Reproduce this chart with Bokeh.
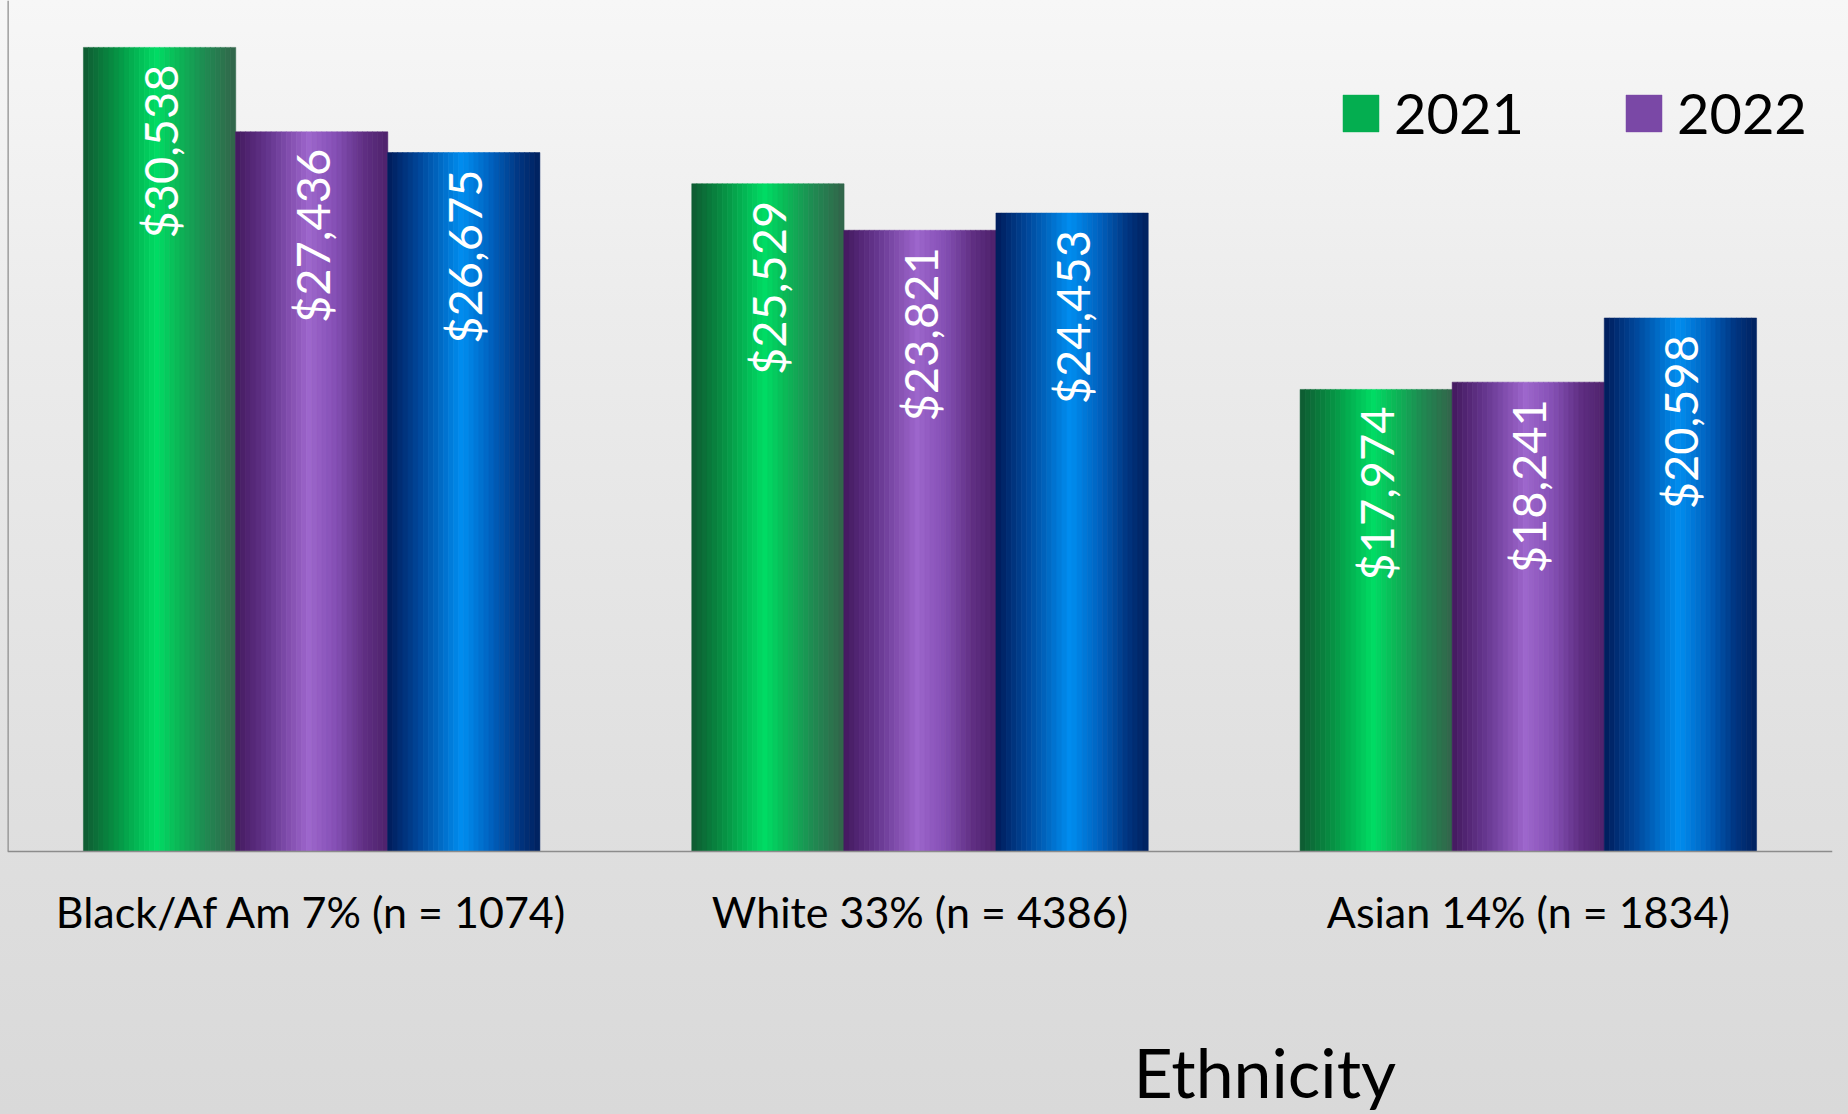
import math
from bokeh.plotting import figure
from bokeh.models import (FactorRange, Range1d, Legend, LegendItem, Label, Span)
from bokeh.transform import dodge
from bokeh.core.properties import value
from bokeh.embed import file_html
from bokeh.resources import INLINE

# ---- data ----
categories = ["Black/Af Am 7% (n = 1074)", "White 33% (n = 4386)", "Asian 14% (n = 1834)"]
series_names = ["2021", "2022", "2023"]
values_2021 = [30538, 25529, 17974]
values_2022 = [27436, 23821, 18241]
values_2023 = [26675, 24453, 20598]
legend_labels = ["2021", "2022"]
x_title = "Ethnicity"
axis_base = 1000      # value at the category axis line
axis_top = 32260      # value at the top of the plot area

series_values = [values_2021, values_2022, values_2023]

# gradient stops (position across bar, colour) per series
gradients = [
    [(0.0, "#0f5a32"), (0.2, "#078d42"), (0.48, "#00dc64"), (0.62, "#0bb857"), (0.8, "#1f8a52"), (1.0, "#33644a")],
    [(0.0, "#43195e"), (0.22, "#66368f"), (0.48, "#9d66cc"), (0.66, "#8550b5"), (0.85, "#5f2e82"), (1.0, "#4e226c")],
    [(0.0, "#001c5a"), (0.22, "#004a9e"), (0.49, "#008ef0"), (0.68, "#0062bf"), (0.86, "#003682"), (1.0, "#00205e")],
]

def hex2rgb(h):
    h = h.lstrip("#")
    return tuple(int(h[i:i + 2], 16) for i in (0, 2, 4))

def interp(stops, t):
    for (p0, c0), (p1, c1) in zip(stops, stops[1:]):
        if p0 <= t <= p1:
            f = (t - p0) / (p1 - p0) if p1 > p0 else 0
            a, b = hex2rgb(c0), hex2rgb(c1)
            return "#%02x%02x%02x" % tuple(int(round(a[k] + (b[k] - a[k]) * f)) for k in range(3))
    return stops[-1][1]

W, H = 1848, 1114
plot_bottom_px = 851      # pixel row of the category axis line
# the plot frame covers the whole canvas; extend the value range below the axis line
units_per_px = (axis_top - axis_base) / plot_bottom_px
y_start = axis_base - (H - plot_bottom_px) * units_per_px

p = figure(x_range=FactorRange(*categories, range_padding=0),
           y_range=Range1d(y_start, axis_top),
           width=W, height=H,
           output_backend="svg", toolbar_location=None,
           min_border_left=7, min_border_right=16, min_border_top=0, min_border_bottom=0)

p.background_fill_alpha = 0
p.border_fill_alpha = 0
p.outline_line_color = None
p.styles = {"background": "linear-gradient(to bottom, #f7f7f7 0%, #ececec 28%, #e0e0e0 70%, #d9d9d9 100%)"}
p.xgrid.visible = False
p.ygrid.visible = False
p.xaxis.visible = False
p.yaxis.visible = False

bar_w = 0.25
N = 30
legend_renderers = []
for i, (name, vals) in enumerate(zip(series_names, series_values)):
    base_off = (i - 1) * bar_w
    src = {"cat": categories, "top": vals}
    pick = None
    for j in range(N):
        t = (j + 0.5) / N
        col = interp(gradients[i], t)
        off = base_off - bar_w / 2 + (j + 0.5) * bar_w / N
        r = p.vbar(x=dodge("cat", off, range=p.x_range), top="top", bottom=axis_base,
                   width=bar_w / N * 1.05, source=src,
                   fill_color=col, line_color=col, line_width=0.5)
        if j == int(N * 0.3):
            pick = r
    legend_renderers.append(pick)
    labels = ["$" + format(v, ",") for v in vals]
    p.text(x=dodge("cat", base_off, range=p.x_range), y="top",
           source={"cat": categories, "top": vals, "lab": labels},
           text="lab", angle=math.pi / 2, text_align="right", text_baseline="middle",
           y_offset=17, text_color="white", text_font=value("Lato"), text_font_size="47px")

# axis lines
p.add_layout(Span(location=axis_base, dimension="width", line_color="#8c8c8c", line_width=1.5))
p.segment(x0=dodge("cat", -0.5, range=p.x_range), x1=dodge("cat", -0.5, range=p.x_range),
          y0="y0", y1="y1",
          source={"cat": categories[:1], "y0": [axis_base], "y1": [axis_top]},
          line_color="#8c8c8c", line_width=2.5)

# category labels
p.text(x="cat", y="y", text="cat", source={"cat": categories, "y": [axis_base] * len(categories)},
       text_align="center", text_baseline="alphabetic", y_offset=60,
       text_color="black", text_font=value("Lato"), text_font_size="43px")

legend = Legend(items=[LegendItem(label=legend_labels[k], renderers=[legend_renderers[k]]) for k in range(2)],
                orientation="horizontal", location=(1331, 968),
                glyph_width=45, glyph_height=46, label_standoff=11, spacing=97,
                label_text_font="Lato", label_text_font_size="56px", label_text_color="black",
                padding=0, margin=0, border_line_color=None, background_fill_alpha=0)
p.add_layout(legend, "center")

p.add_layout(Label(text=x_title, x=1126, y=43, x_units="screen", y_units="screen",
                   text_font="Lato", text_font_size="68px", text_color="black",
                   text_baseline="alphabetic", text_align="left"))

open("out.html", "w").write(file_html(p, INLINE))
